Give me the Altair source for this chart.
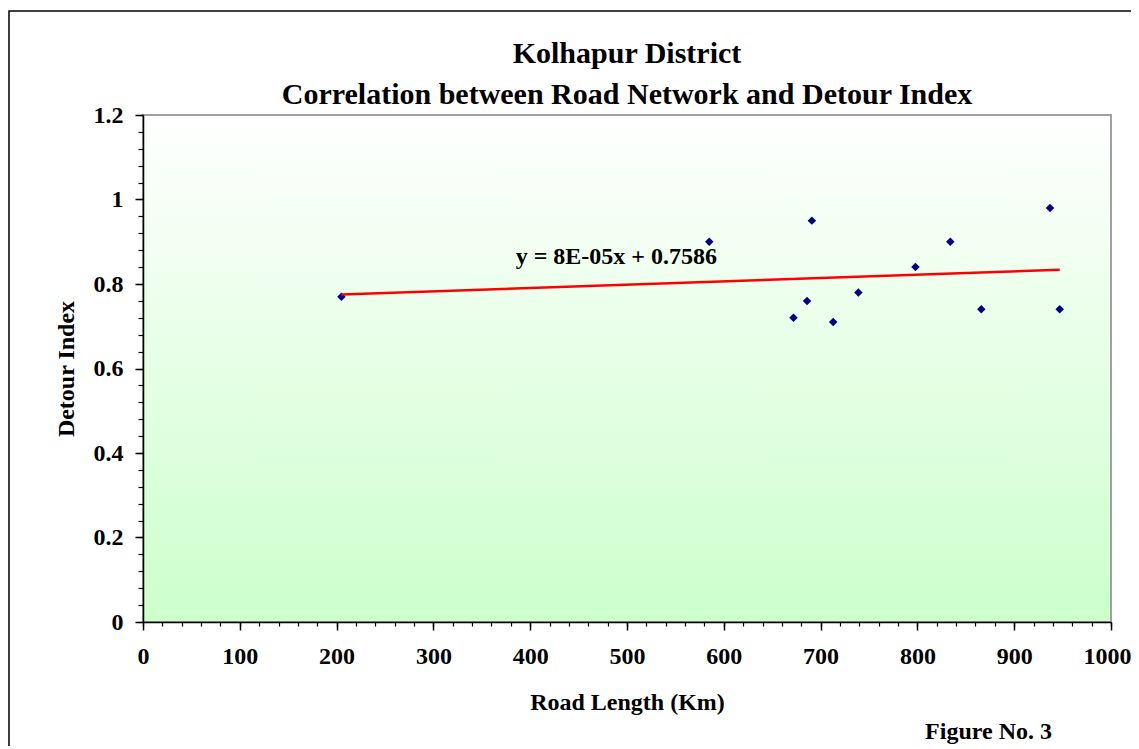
import altair as alt
import pandas as pd

# Data
road_length = [205, 585, 691, 672, 686, 713, 739, 798, 834, 866, 937, 947]
detour_index = [0.77, 0.90, 0.95, 0.72, 0.76, 0.71, 0.78, 0.84, 0.90, 0.74, 0.98, 0.74]

title_lines = ["Kolhapur District", "Correlation between Road Network and Detour Index"]
x_title = "Road Length (Km)"
y_title = "Detour Index"
equation_text = ["y = 8E-05x + 0.7586"]
equation_x = [489]
equation_y = [0.847]
figure_note = "Figure No. 3"

x_major = list(range(0, 1001, 100))
x_minor = list(range(0, 1001, 20))
y_major = [0, 0.2, 0.4, 0.6, 0.8, 1.0, 1.2]
y_minor = [round(i * 0.04, 2) for i in range(31)]

FONT = "Liberation Serif"
W, H = 968, 507
X_MAX = 1000

df = pd.DataFrame({"x": road_length, "y": detour_index})
eq_df = pd.DataFrame({"x": equation_x, "y": equation_y, "t": equation_text})

xs = alt.Scale(domain=[0, X_MAX], nice=False, zero=False)
ys = alt.Scale(domain=[0, 1.2], nice=False, zero=False)

label_style = dict(labelFont=FONT, labelFontSize=24, labelFontWeight="bold", labelColor="black")

x_axis = alt.Axis(values=x_major, format="d", orient="bottom", grid=False, tickSize=8, tickColor="black",
                  domainColor="black", domainWidth=1.5, tickWidth=1.5, zindex=2, labelFlush=False,
                  labelExpr=f"datum.value == {X_MAX} ? '' : datum.label", labelOverlap=False,
                  labelPadding=14, title=x_title, titleFont=FONT, titleFontSize=24,
                  titleFontWeight="bold", titleColor="black", titlePadding=22, **label_style)
y_axis = alt.Axis(values=y_major, format="~g", orient="left", grid=False, tickSize=8, tickColor="black",
                  domainColor="black", domainWidth=1.5, tickWidth=1.5, zindex=2, labelFlush=False,
                  labelPadding=12, title=y_title, titleFont=FONT, titleFontSize=24,
                  titleFontWeight="bold", titleColor="black", titlePadding=15, **label_style)

bg = alt.Chart(eq_df).mark_rect(
    fill=alt.LinearGradient(gradient="linear", x1=0, y1=0, x2=0, y2=1,
                            stops=[alt.GradientStop(color="#ffffff", offset=0),
                                   alt.GradientStop(color="#ccffcc", offset=1)]),
    stroke="#a0a0a0", strokeWidth=2,
).encode(x=alt.value(0), x2=alt.value(W), y=alt.value(0), y2=alt.value(H))

frame = alt.Chart(eq_df).mark_rect(fill=None, stroke="black", strokeWidth=1.5, clip=False).encode(
    x=alt.value(9 - 143), x2=alt.value(1300), y=alt.value(11 - 115), y2=alt.value(900)
)

points = alt.Chart(df).mark_point(shape="diamond", filled=True, color="#000080", size=72, opacity=1).encode(
    x=alt.X("x:Q", scale=xs, axis=x_axis),
    y=alt.Y("y:Q", scale=ys, axis=y_axis),
)

minor = alt.Chart(df).mark_point(opacity=0).encode(
    x=alt.X("x:Q", scale=xs, axis=alt.Axis(
        values=x_minor, format="d", orient="bottom", domain=False, zindex=2, grid=False,
        tickSize=4, tickColor="black", tickWidth=1.2, title=None,
        labelExpr=f"datum.value == {X_MAX} ? datum.label : ''", labelOverlap=False,
        labelFlush=True, labelFlushOffset=20, labelPadding=18, **label_style)),
    y=alt.Y("y:Q", scale=ys, axis=alt.Axis(values=y_minor, orient="left", labels=False, domain=False, zindex=2,
                                             grid=False, tickSize=5, tickColor="black", tickWidth=1.2, title=None)),
)

trend = alt.Chart(df).transform_regression("x", "y").mark_line(color="#ff0000", strokeWidth=2.5).encode(
    x=alt.X("x:Q", scale=xs, axis=None),
    y=alt.Y("y:Q", scale=ys, axis=None),
)

eq = alt.Chart(eq_df).mark_text(font=FONT, fontSize=24, fontWeight="bold", color="black",
                                baseline="alphabetic").encode(
    x=alt.X("x:Q", scale=xs, axis=None),
    y=alt.Y("y:Q", scale=ys, axis=None),
    text="t:N",
)

title1 = alt.Chart(eq_df).mark_text(font=FONT, fontSize=30, fontWeight="bold", color="black",
                                    baseline="alphabetic").encode(
    x=alt.value(W / 2), y=alt.value(63 - 115), text=alt.value(title_lines[0])
)
title2 = alt.Chart(eq_df).mark_text(font=FONT, fontSize=30, fontWeight="bold", color="black",
                                    baseline="alphabetic").encode(
    x=alt.value(W / 2), y=alt.value(104 - 115), text=alt.value(title_lines[1])
)

note = alt.Chart(eq_df).mark_text(font=FONT, fontSize=24, fontWeight="bold", color="black", align="right",
                                  baseline="alphabetic").encode(
    x=alt.value(1052 - 143), y=alt.value(739 - 115), text=alt.value(figure_note)
)

chart = alt.layer(bg, frame, points, minor, trend, eq, title1, title2, note).resolve_axis(
    x="independent", y="independent"
).properties(
    width=W, height=H,
    autosize=alt.AutoSizeParams(type="none"),
    padding={"left": 135, "top": 107, "right": 20, "bottom": 124},
).configure_view(stroke=None).configure(background="white")

chart.save("out.html", embed_options={"renderer": "svg", "actions": False})
